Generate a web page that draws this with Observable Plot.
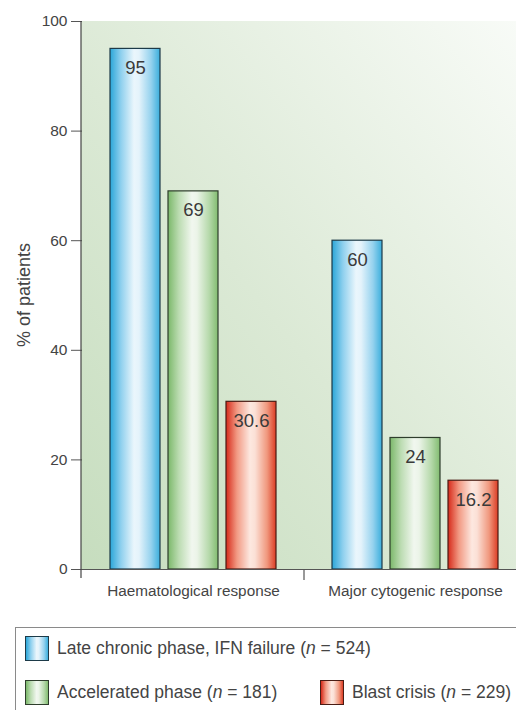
<!DOCTYPE html>
<html>
<head>
<meta charset="utf-8">
<script src="https://cdn.jsdelivr.net/npm/d3@7"></script>
<script src="https://cdn.jsdelivr.net/npm/@observablehq/plot@0.6"></script>
<style>
  body { margin: 0; background: white; font-family: "Liberation Sans", Arial, sans-serif; }
  #legend { position: relative; margin-left: 15px; margin-top: 17px; width: 520px; height: 110px;
            border: 1px solid #8a8a8a; border-right: none; box-sizing: border-box; }
  .item { position: absolute; display: flex; align-items: center; font-size: 17.5px; color: #444; white-space: nowrap; }
  .sw { width: 24px; height: 25px; margin-right: 8px; box-sizing: border-box; border: 1px solid #333; }
</style>
</head>
<body>
<div id="chart"></div>
<div id="legend"></div>
<script>
const groups = ["Haematological response", "Major cytogenic response"];
const series = ["Late chronic phase, IFN failure", "Accelerated phase", "Blast crisis"];
const seriesN = [524, 181, 229];
const haemValues = [95, 69, 30.6];
const majorValues = [60, 24, 16.2];
const yTicks = [0, 20, 40, 60, 80, 100];

const data = [];
series.forEach((s, i) => {
  data.push({group: groups[0], series: s, value: haemValues[i]});
  data.push({group: groups[1], series: s, value: majorValues[i]});
});

const gradIds = ["gBlue", "gGreen", "gRed"];
const gradStops = [
  [["0%", "#2aa6d8"], ["22%", "#8fd0ee"], ["48%", "#eaf6fc"], ["58%", "#e4f3fb"], ["82%", "#95d2ee"], ["100%", "#3aaedc"]],
  [["0%", "#7bb86a"], ["22%", "#bcdcb2"], ["48%", "#f1f7ef"], ["58%", "#ebf4e8"], ["82%", "#b6d9ab"], ["100%", "#82bc70"]],
  [["0%", "#d62a1a"], ["22%", "#f29a84"], ["48%", "#fde8e0"], ["58%", "#fbe0d6"], ["82%", "#f0987e"], ["100%", "#dc3c24"]]
];
const strokes = ["#1d3a48", "#2e3d2c", "#4a1c14"];

const chart = Plot.plot({
  width: 516,
  height: 610,
  marginTop: 21,
  marginBottom: 41,
  marginLeft: 81,
  marginRight: 0,
  style: {fontFamily: "'Liberation Sans', Arial, sans-serif", color: "#444", background: "transparent", fontSize: "15.5px"},
  y: {domain: [0, 100], ticks: yTicks},
  x: {domain: series, paddingInner: 0.137, paddingOuter: 0.47, axis: null},
  fx: {domain: groups, range: [81, 526], padding: 0, label: null},
  marks: [
    Plot.axisY({ticks: yTicks, tickSize: 11, tickPadding: 4, fontSize: 15.5, stroke: "#555", label: null}),
    Plot.axisFx({anchor: "bottom", tickSize: 0, tickPadding: 16, fontSize: 15.3, label: null}),
    ...series.map((s, i) => Plot.barY(data.filter(d => d.series === s), {
      fx: "group", x: "series", y: "value",
      fill: `url(#${gradIds[i]})`, stroke: strokes[i], strokeWidth: 1.2
    })),
    Plot.ruleY([0], {stroke: "#555", strokeWidth: 1.2}),
    Plot.text(data, {fx: "group", x: "series", y: "value", text: d => String(d.value),
                     dy: 19, fontSize: 18.5, fill: "#3a3a3a"})
  ]
});

const svg = d3.select(chart);
const defs = svg.insert("defs", ":first-child");
gradIds.forEach((id, i) => {
  const g = defs.append("linearGradient").attr("id", id).attr("x1", 0).attr("x2", 1).attr("y1", 0).attr("y2", 0);
  gradStops[i].forEach(([o, c]) => g.append("stop").attr("offset", o).attr("stop-color", c));
});
const bg = defs.append("linearGradient").attr("id", "gBg").attr("x1", 0).attr("y1", 1).attr("x2", 1).attr("y2", 0);
[["0%", "#c6ddbe"], ["45%", "#dbe9d5"], ["100%", "#f8fbf7"]].forEach(([o, c]) => bg.append("stop").attr("offset", o).attr("stop-color", c));

const yS = chart.scale("y");
const fxS = chart.scale("fx");
const yTop = yS.apply(100), yBase = yS.apply(0);
const left = 81, right = 516;
svg.insert("rect", "g")
  .attr("x", left).attr("y", yTop).attr("width", right - left).attr("height", yBase - yTop)
  .attr("fill", "url(#gBg)");
// y axis line
svg.append("line").attr("x1", left).attr("x2", left).attr("y1", yTop).attr("y2", yBase + 9)
  .attr("stroke", "#444").attr("stroke-width", 1.2);
// group divider
const divX = fxS.apply(groups[1]);
svg.append("line").attr("x1", divX).attr("x2", divX).attr("y1", yBase).attr("y2", yBase + 11)
  .attr("stroke", "#555").attr("stroke-width", 1.2);
// y axis title
svg.append("text").text("% of patients")
  .attr("transform", `translate(24,${(yTop + yBase) / 2}) rotate(-90)`)
  .attr("text-anchor", "middle").attr("dominant-baseline", "central")
  .attr("font-size", 18).attr("fill", "#444");

document.getElementById("chart").appendChild(chart);

// legend
const css = stops => `linear-gradient(to right, ${stops.map(([o, c]) => `${c} ${o}`).join(", ")})`;
const legend = document.getElementById("legend");
const pos = [[9, 8], [9, 52], [304, 52]];
series.forEach((s, i) => {
  const it = document.createElement("div");
  it.className = "item";
  it.style.left = pos[i][0] + "px";
  it.style.top = pos[i][1] + "px";
  const sw = document.createElement("span");
  sw.className = "sw";
  sw.style.background = css(gradStops[i]);
  sw.style.borderColor = strokes[i];
  it.appendChild(sw);
  const t = document.createElement("span");
  t.innerHTML = `${s} (<i>n</i> = ${seriesN[i]})`;
  it.appendChild(t);
  legend.appendChild(it);
});
</script>
</body>
</html>
